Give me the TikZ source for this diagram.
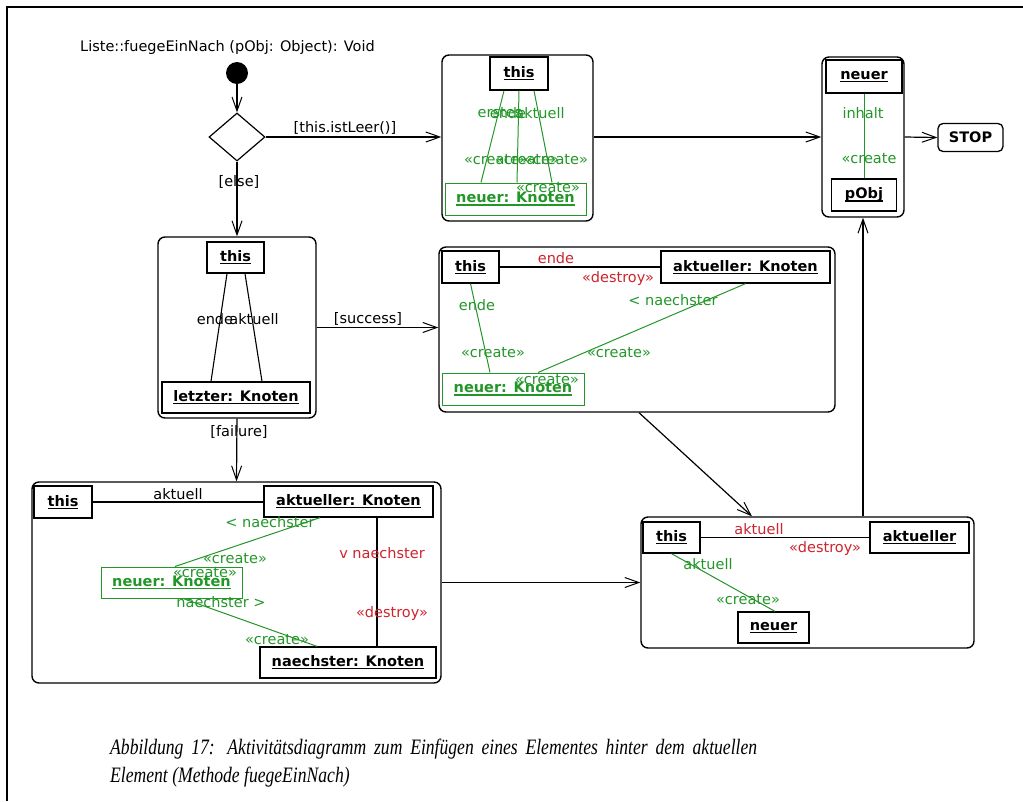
\documentclass[tikz,border=0pt]{standalone}
\usepackage{graphicx}
\usepackage{fontspec}
\setmainfont{DejaVu Sans}
\newfontfamily\capfont{Liberation Serif}
\usetikzlibrary{arrows.meta,shapes.geometric}

\definecolor{crgreen}{RGB}{34,150,40}
\definecolor{dsred}{RGB}{205,35,45}

% bold, underlined object name with a heavier underline
\newcommand\objname[1]{\setbox0=\hbox{#1}\rlap{\rule[-2.6pt]{\wd0}{1.2pt}}\box0}

\begin{document}
\begin{tikzpicture}[x=1pt,y=-1pt,
  every node/.style={font=\fontsize{14.5}{17}\selectfont, inner sep=0pt},
  act/.style={draw, line width=1.4pt, rounded corners=7pt},
  obj/.style={draw, line width=1.3pt, font=\fontsize{14.5}{17}\selectfont\bfseries},
  newobj/.style={obj, draw=crgreen, text=crgreen, line width=1pt},
  flow/.style={line width=1.2pt, -{Straight Barb[length=14pt,width=10pt,line width=1pt]}},
  link/.style={line width=1.1pt},
  newlink/.style={crgreen, line width=1pt},
  crl/.style={text=crgreen},
  rdl/.style={text=dsred},
  captext/.style={anchor=base west, font=\capfont\itshape\fontsize{22}{26}\selectfont},
]
\useasboundingbox (0,0) rectangle (1023,801);
\draw[line width=1.2pt] (7,801) -- (7,7) -- (1023,7);

% ---------- start and decision ----------
\node (title) at (227.5,47) {Liste::fuegeEinNach (pObj: Object): Void};
\node[circle, fill=black, minimum size=22pt] (start) at (237,73) {};
\node[diamond, draw, line width=1.2pt, minimum width=56pt, minimum height=48pt] (dec) at (237,137) {};

% ---------- activity: list is empty ----------
\node[act, minimum width=151pt, minimum height=166pt] (actA) at (517.5,138) {};
\node[obj, minimum width=58pt, minimum height=33pt] (aThis) at (519,73.5) {\objname{this}};
\node[newobj, minimum width=141pt, minimum height=32pt] (aNeu) at (515.5,199) {\objname{neuer: Knoten}};
\draw[newlink] ([xshift=-15pt]aThis.south) -- ([xshift=-34.5pt]aNeu.north);
\draw[newlink] (aThis.south) -- ([xshift=1.5pt]aNeu.north);
\draw[newlink] ([xshift=15pt]aThis.south) -- ([xshift=36.5pt]aNeu.north);
\node[crl] (aL1) at (500,113) {erstes};
\node[crl] (aL2) at (508,113) {ende};
\node[crl] (aL3) at (540,113) {aktuell};
\node[crl] (aC1) at (496,160) {«create»};
\node[crl] (aC2) at (527,160) {«create»};
\node[crl] (aC3) at (556,160) {«create»};
\node[crl] (aC4) at (548,188) {«create»};

% ---------- activity: set content ----------
\node[act, minimum width=82pt, minimum height=160pt] (actC) at (863,137) {};
\node[obj, minimum width=76pt, minimum height=33pt] (cNeu) at (864,76.5) {\objname{neuer}};
\node[obj, minimum width=65pt, minimum height=32pt] (cObj) at (864,195) {\objname{pObj}};
\draw[newlink] (cNeu.south) -- (cObj.north);
\node[crl] (cL1) at (863,113) {inhalt};
\node[crl] (cL2) at (869,159) {«create};

\node[draw, line width=1.3pt, rounded corners=5pt, minimum width=65pt, minimum height=28pt,
  font=\fontsize{14.5}{17}\selectfont\bfseries] (stop) at (970.5,137.5) {STOP};

% ---------- activity: find last element ----------
\node[act, minimum width=158pt, minimum height=181pt] (actB) at (237,327.5) {};
\node[obj, minimum width=57pt, minimum height=31pt] (bThis) at (235.5,257.5) {\objname{this}};
\node[obj, minimum width=148pt, minimum height=31pt] (bLetzt) at (236,397.5) {\objname{letzter: Knoten}};
\draw[link] ([xshift=-8.5pt]bThis.south) -- ([xshift=-25pt]bLetzt.north);
\draw[link] ([xshift=9.5pt]bThis.south) -- ([xshift=26pt]bLetzt.north);
\node (bL1) at (215,319) {ende};
\node (bL2) at (254,319) {aktuell};

% ---------- activity: append at end ----------
\node[act, minimum width=396pt, minimum height=165pt] (actD) at (637,329.5) {};
\node[obj, minimum width=57pt, minimum height=32pt] (dThis) at (470.5,267) {\objname{this}};
\node[obj, minimum width=169pt, minimum height=32pt] (dAkt) at (745.5,267) {\objname{aktueller: Knoten}};
\node[newobj, minimum width=142pt, minimum height=32pt] (dNeu) at (513,389) {\objname{neuer: Knoten}};
\draw[link] (dThis.east) -- (dAkt.west);
\node[rdl] (dR1) at (556,258) {ende};
\node[rdl] (dR2) at (618,278) {«destroy»};
\draw[newlink] (dThis.south) -- ([xshift=-23pt]dNeu.north);
\draw[newlink] (dAkt.south) -- ([xshift=25pt]dNeu.north);
\node[crl] (dG1) at (477,305) {ende};
\node[crl] (dG2) at (493,353) {«create»};
\node[crl] (dG3) at (673,300) {< naechster};
\node[crl] (dG4) at (619,353) {«create»};
\node[crl] (dG5) at (547,380) {«create»};

% ---------- activity: insert in the middle ----------
\node[act, minimum width=409pt, minimum height=201pt] (actE) at (236.5,582.5) {};
\node[obj, minimum width=58pt, minimum height=32pt] (eThis) at (63,502) {\objname{this}};
\node[obj, minimum width=169pt, minimum height=31pt] (eAkt) at (348.5,501.5) {\objname{aktueller: Knoten}};
\node[newobj, minimum width=141pt, minimum height=31pt] (eNeu) at (171.5,582.5) {\objname{neuer: Knoten}};
\node[obj, minimum width=176pt, minimum height=31pt] (eNext) at (348,662.5) {\objname{naechster: Knoten}};
\draw[link] (eThis.east) -- (eAkt.west |- eThis.east);
\node (eL1) at (178,494) {aktuell};
\draw[link] ([xshift=28.5pt]eAkt.south) -- ([xshift=29pt]eNext.north);
\node[rdl] (eR1) at (382,553) {v naechster};
\node[rdl] (eR2) at (392,613) {«destroy»};
\draw[newlink] ([xshift=-28.5pt]eAkt.south) -- ([xshift=3.5pt]eNeu.north);
\node[crl] (eG1) at (270,522) {< naechster};
\node[crl] (eG2) at (235,559) {«create»};
\node[crl] (eG3) at (205,573) {«create»};
\draw[newlink] ([xshift=11.5pt]eNeu.south) -- ([xshift=-31pt]eNext.north);
\node[crl] (eG4) at (221,602) {naechster >};
\node[crl] (eG5) at (277,640) {«create»};

% ---------- activity: move cursor to new element ----------
\node[act, minimum width=333pt, minimum height=131pt] (actF) at (807.5,582.5) {};
\node[obj, minimum width=57pt, minimum height=31pt] (fThis) at (671.5,537.5) {\objname{this}};
\node[obj, minimum width=99pt, minimum height=31pt] (fAkt) at (919.5,537.5) {\objname{aktueller}};
\node[obj, minimum width=71pt, minimum height=31pt] (fNeu) at (773.5,627.5) {\objname{neuer}};
\draw[link] (fThis.east) -- (fAkt.west);
\node[rdl] (fR1) at (759,529) {aktuell};
\node[rdl] (fR2) at (825,548) {«destroy»};
\draw[newlink] (fThis.south) -- ([xshift=1.5pt]fNeu.north);
\node[crl] (fG1) at (708,564) {aktuell};
\node[crl] (fG2) at (748,600) {«create»};

% ---------- control flow ----------
\draw[flow] (start) -- (dec.north);
\draw[flow] (dec.east) -- (actA.west |- dec.east);
\node (g1) at (345,128) {[this.istLeer()]};
\draw[flow] (dec.south) -- (actB.north);
\node (g2) at (239,182) {[else]};
\draw[flow] (actA.east |- actC.west) -- (actC.west);
\draw[flow] (actC.east) -- (stop.west);
\draw[flow] (actB.east) -- (actD.west |- actB.east);
\node (g3) at (368,319) {[success]};
\draw[flow] (actB.south) -- (actE.north);
\node (g4) at (239,432) {[failure]};
\draw[flow] ([xshift=2pt]actD.south) -- ([xshift=-55.5pt]actF.north);
\draw[flow] (actE.east) -- (actF.west);
\draw[flow] (actF.north -| actC.south) -- (actC.south);

% ---------- caption (first line justified) ----------
\node[captext] (cap1) at (110,754)
  {\scalebox{0.80}[1]{\makebox[808.7pt][s]{Abbildung 17: Aktivitätsdiagramm zum Einfügen eines Elementes hinter dem aktuellen}}};
\node[captext] (cap2) at (110,782)
  {\scalebox{0.80}[1]{Element (Methode fuegeEinNach)}};
\end{tikzpicture}
\end{document}
